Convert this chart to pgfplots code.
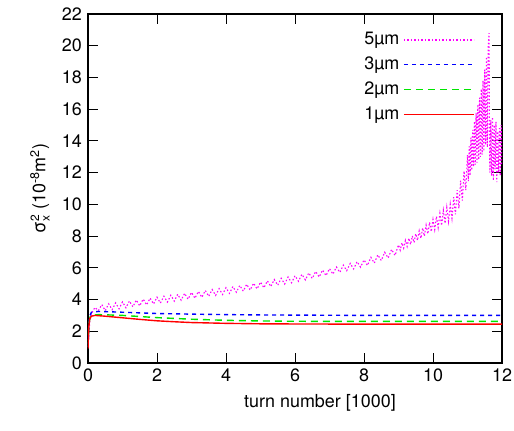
\documentclass[border=0pt]{standalone}
\usepackage{fontspec}
\setmainfont{TeX Gyre Heros}
\usepackage{pgfplots}
\pgfplotsset{compat=1.18}
\definecolor{gpmag}{rgb}{1,0,1}
\definecolor{gpblue}{rgb}{0,0,1}
\definecolor{gpgreen}{rgb}{0,0.9,0}
\definecolor{gpred}{rgb}{1,0,0}
\begin{document}
\fontsize{18}{22}\selectfont
\begin{tikzpicture}
\useasboundingbox (-88bp,-68bp) rectangle (426bp,363bp);
\begin{axis}[
  at={(0,0)}, anchor=south west,
  scale only axis, width=414bp, height=349bp,
  xmin=0, xmax=12, ymin=0, ymax=22,
  xtick={0,2,...,12}, ytick={0,2,...,22},
  tick align=inside, major tick length=10bp,
  axis line style={line width=1.3pt},
  tick style={line width=0.9pt, black},
  /pgf/number format/assume math mode=true,
  tick label style={font=\fontsize{18}{22}\selectfont},
  label style={font=\fontsize{18}{22}\selectfont},
  xlabel={turn number [1000]},
  xlabel style={xshift=25bp},
  ylabel={σ$_{\mbox{\fontsize{12}{14}\selectfont x}}^{\mbox{\fontsize{12}{14}\selectfont 2}}$ (10\textsuperscript{-8}m\textsuperscript{2})},
  legend style={at={(axis cs:11.3,21.1)}, anchor=north east, draw=none, fill=none,
    font=\fontsize{18}{22}\selectfont, row sep=5.5bp, nodes={inner xsep=4bp}},
  legend cell align=right,
  legend plot pos=right,
  legend image code/.code={\draw[#1] (0bp,0bp) -- (70bp,0bp);},
]
\addplot[color=gpmag, draw=gpmag, line width=1.1pt, dash pattern=on 1.5bp off 2bp] coordinates {
(0.0,1.0) (0.05,2.6) (0.1,3.1) (0.2,3.50) (0.3,3.30) (0.4,3.68) (0.5,3.30) (0.6,3.73) (0.7,3.36) (0.8,3.79) (0.9,3.42)
(1.0,3.85) (1.1,3.48) (1.2,3.91) (1.3,3.54) (1.4,3.97) (1.5,3.60) (1.6,4.03) (1.7,3.66) (1.8,4.09) (1.9,3.72)
(2.0,4.15) (2.1,3.78) (2.2,4.21) (2.3,3.84) (2.4,4.27) (2.5,3.90) (2.6,4.33) (2.7,3.96) (2.8,4.39) (2.9,4.02)
(3.0,4.45) (3.1,4.08) (3.2,4.51) (3.3,4.14) (3.4,4.57) (3.5,4.20) (3.6,4.63) (3.7,4.26) (3.8,4.69) (3.9,4.32)
(4.0,4.75) (4.1,4.39) (4.2,4.82) (4.3,4.46) (4.4,4.89) (4.5,4.53) (4.6,4.96) (4.7,4.60) (4.8,5.03) (4.9,4.67)
(5.0,5.10) (5.1,4.74) (5.2,5.18) (5.3,4.82) (5.4,5.26) (5.5,4.90) (5.6,5.34) (5.7,4.98) (5.8,5.42) (5.9,5.06)
(6.0,5.50) (6.1,5.15) (6.2,5.59) (6.3,5.24) (6.4,5.68) (6.5,5.33) (6.6,5.77) (6.7,5.42) (6.8,5.86) (6.9,5.51)
(7.0,5.95) (7.1,5.60) (7.2,6.05) (7.3,5.71) (7.4,6.17) (7.5,5.82) (7.6,6.28) (7.7,5.93) (7.8,6.39) (7.9,6.04)
(8.0,6.50) (8.1,6.15) (8.2,6.66) (8.3,6.30) (8.4,6.82) (8.5,6.46) (8.6,6.98) (8.7,6.62) (8.8,7.16) (8.9,6.78)
(9.00,7.45) (9.05,7.11) (9.10,7.58) (9.15,7.24) (9.20,7.73) (9.25,7.35) (9.30,7.87) (9.35,7.47) (9.40,8.01) (9.45,7.59)
(9.50,8.15) (9.55,7.72) (9.60,8.33) (9.65,7.86) (9.70,8.51) (9.75,8.00) (9.80,8.69) (9.85,8.14) (9.90,8.87) (9.95,8.28)
(10.00,9.05) (10.05,8.41) (10.10,9.24) (10.15,8.54) (10.20,9.43) (10.25,8.67) (10.30,9.62) (10.35,8.80) (10.40,9.81) (10.45,8.93)
(10.50,10.00) (10.55,9.12) (10.60,10.45) (10.65,9.37) (10.70,10.90) (10.75,9.75) (10.80,11.50) (10.85,10.24) (10.90,12.10) (10.95,10.90)
(11.000,13.10) (11.025,11.47) (11.050,13.65) (11.075,11.82) (11.100,14.20) (11.125,12.15) (11.150,14.70) (11.175,12.37)
(11.200,15.23) (11.225,12.50) (11.250,15.77) (11.275,12.63) (11.300,16.30) (11.325,12.82) (11.350,16.73) (11.375,13.00)
(11.400,17.27) (11.425,13.13) (11.450,17.80) (11.475,13.35) (11.500,18.50) (11.525,13.75) (11.550,19.30) (11.575,13.60)
(11.600,20.00) (11.625,20.80) (11.640,13.50) (11.650,12.00) (11.675,15.30) (11.700,11.80) (11.725,15.50) (11.750,11.50)
(11.775,15.00) (11.800,12.20) (11.825,15.20) (11.850,11.40) (11.875,14.60) (11.900,12.00) (11.925,14.80) (11.950,11.80)
(11.975,15.00) (12.000,12.50)
};
\addlegendentry{5µm}
\addplot[color=gpblue, draw=gpblue, line width=1.4pt, dash pattern=on 4bp off 4bp] coordinates {
(0,1.0) (0.03,2.6) (0.06,3.0) (0.1,3.2) (0.3,3.25) (0.6,3.23) (1,3.2) (1.5,3.16) (2,3.12) (3,3.08) (4,3.05) (5,3.03) (6,3.02) (8,3.0) (10,3.0) (12,3.0)
};
\addlegendentry{3µm}
\addplot[color=gpgreen, draw=gpgreen, line width=1.4pt, dash pattern=on 7bp off 5bp] coordinates {
(0,1.0) (0.03,2.5) (0.06,2.9) (0.1,3.0) (0.3,3.05) (0.6,3.03) (1,3.0) (1.5,2.93) (2,2.86) (3,2.76) (4,2.69) (5,2.65) (6,2.63) (8,2.62) (10,2.62) (12,2.62)
};
\addlegendentry{2µm}
\addplot[color=gpred, draw=gpred, line width=1.4pt] coordinates {
(0,0.9) (0.02,2.2) (0.05,2.8) (0.1,2.95) (0.2,3.0) (0.5,2.95) (1,2.85) (1.5,2.75) (2,2.66) (2.5,2.6) (3,2.55) (4,2.5) (5,2.47) (6,2.46) (8,2.45) (10,2.45) (12,2.45)
};
\addlegendentry{1µm}
\end{axis}
\end{tikzpicture}
\end{document}
